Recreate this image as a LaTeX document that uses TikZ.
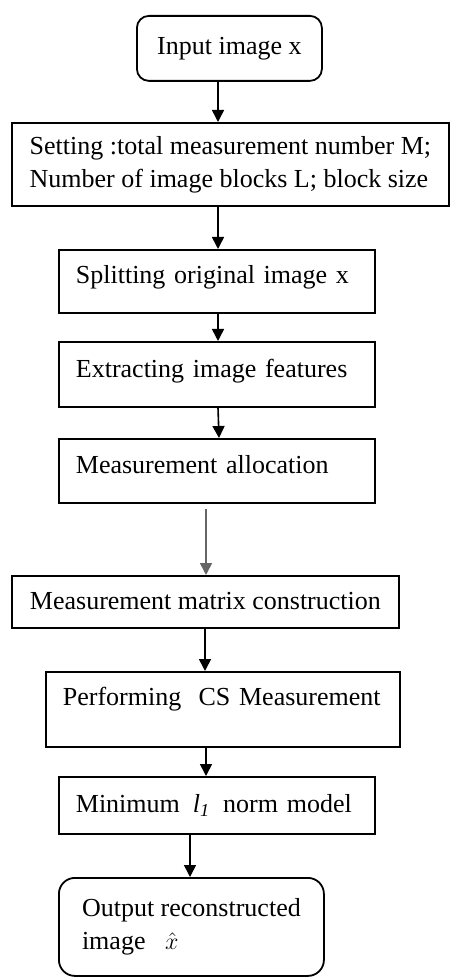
\documentclass[tikz,border=0pt]{standalone}
\usepackage{fontspec}
\setmainfont{Liberation Serif}
\usetikzlibrary{arrows.meta, shapes, positioning}

\begin{document}
\begin{tikzpicture}[x=0.5pt, y=-0.5pt,
        font=\fontsize{13}{16.5}\selectfont,
        >={Triangle[length=6pt, width=6pt]},
        box/.style={draw, line width=0.9pt, anchor=north west, inner ysep=0pt},
        leftbox/.style={box, align=left, inner xsep=8.5pt, text width=#1},
        link/.style={->, line width=0.8pt}]
            \useasboundingbox (0, 0) rectangle (449, 977);

            \node[box, rounded corners=6pt, align=center, minimum width=92.5pt, minimum height=32.5pt] (input) at (136, 15) {Input image x};
            \node[box, align=left, minimum width=218.5pt, minimum height=41.5pt] (setting) at (11, 122) {Setting :total measurement number M;\\Number of image blocks L; block size};
            \node[leftbox=141pt, text height=17pt, text depth=14.5pt] (split) at (58, 249) {Splitting original image x};
            \node[leftbox=141pt, text height=18pt, text depth=14.5pt] (extract) at (58, 341) {Extracting image features};
            \node[leftbox=141pt, text height=17.5pt, text depth=14.5pt] (alloc) at (58, 438) {Measurement allocation};
            \node[box, minimum width=193.5pt, text height=17pt, text depth=9pt] (construct) at (11, 575) {Measurement matrix construction};
            \node[leftbox=160pt, text height=17pt, text depth=20.5pt] (perform) at (45, 671) {Performing\ \ CS Measurement};
            \node[leftbox=141pt, text height=18pt, text depth=10.5pt] (minimum) at (58, 776) {\mbox{Minimum\enspace\textit{l}\textsubscript{\textit{1}}\enspace norm model}};
            \node[box, rounded corners=8pt, align=left, minimum width=132.5pt, minimum height=49pt] (output) at (58, 877) {Output reconstructed\\image\ \ \ $\hat{x}$};

            \draw[link] (input.south -| 218, 0) -- (setting.north -| 218, 0);
            \draw[link] (setting.south -| 218, 0) -- (split.north -| 218, 0);
            \draw[link] (split.south -| 218, 0) -- (extract.north -| 218, 0);
            \draw[link] (extract.south -| 218, 0) -- (alloc.north -| 219, 0);
            \draw[link, black!60] ([yshift=-2.5pt]alloc.south -| 206, 0) -- (construct.north -| 206, 0);
            \draw[link] (construct.south -| 205, 0) -- (perform.north -| 205, 0);
            \draw[link] (perform.south -| 206, 0) -- (minimum.north -| 206, 0);
            \draw[link] (minimum.south -| 190, 0) -- (output.north -| 190, 0);
        \end{tikzpicture}
\end{document}
